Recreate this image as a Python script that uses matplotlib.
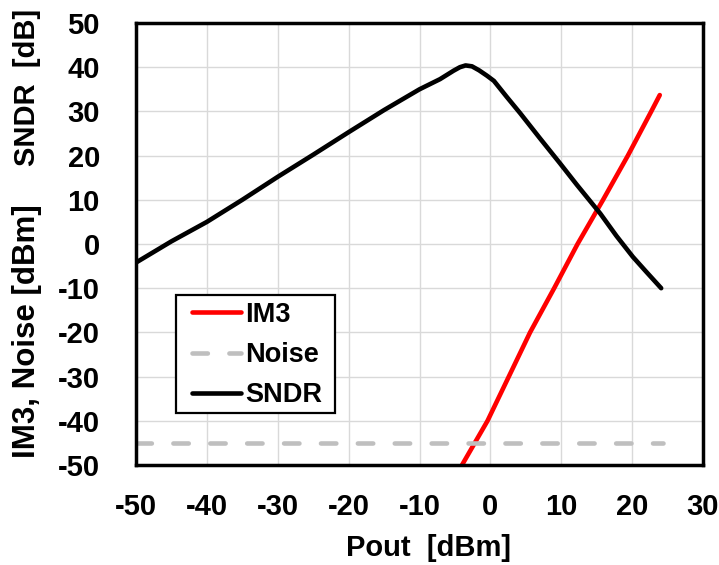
import matplotlib
matplotlib.use("Agg")
import matplotlib.pyplot as plt
from matplotlib.patches import Rectangle

plt.rcParams['font.family'] = ['Liberation Sans', 'DejaVu Sans']
plt.rcParams['font.weight'] = 'bold'
plt.rcParams['axes.unicode_minus'] = False

# Output power sweep [dBm] and measured curves
sndr_x = [-50, -45, -40, -35, -30, -25, -20, -15, -10, -7.1, -5.2, -4.3, -3.5, -2.6,
          -1.6, -0.5, 0.5, 2.3, 4.2, 7.0, 9.8, 12.2, 15.5, 17.8, 20.1, 22.0, 24.1]
sndr_y = [-4.2, 0.6, 5.0, 10.0, 15.2, 20.2, 25.3, 30.3, 35.0, 37.3, 39.2, 40.0, 40.4, 40.2,
          39.3, 38.1, 36.9, 33.3, 29.6, 23.9, 18.3, 13.4, 6.9, 1.8, -2.9, -6.3, -10.0]

im3_x = [-4.6, -4.0, -2.2, -0.4, 2.6, 5.6, 9.0, 12.3, 15.9, 19.4, 22.7, 23.9]
im3_y = [-52.0, -50.0, -45.0, -40.0, -30.0, -20.0, -10.0, 0.0, 10.0, 20.0, 30.0, 33.7]

noise_x = [-50, 24.3]
noise_y = [-45, -45]

x_ticks = [-50, -40, -30, -20, -10, 0, 10, 20, 30]
y_ticks = [-50, -40, -30, -20, -10, 0, 10, 20, 30, 40, 50]

W, H = 719, 565
fig = plt.figure(figsize=(W / 100, H / 100), dpi=100)
ax = fig.add_axes([136 / W, 1 - 465 / H, 567 / W, 442 / H])

lw = 3.3
ax.plot(im3_x, im3_y, color='#ff0000', lw=lw, solid_capstyle='round',
        solid_joinstyle='round', label='IM3', zorder=3)
ax.plot(noise_x, noise_y, color='#bfbfbf', lw=lw, dashes=(3.35, 4.7),
        dash_capstyle='round', label='Noise', zorder=3)
ax.plot(sndr_x, sndr_y, color='black', lw=lw, solid_capstyle='round',
        solid_joinstyle='round', label='SNDR', zorder=3)

ax.set_xlim(-50, 30)
ax.set_ylim(-50, 50)
ax.set_xticks(x_ticks)
ax.set_yticks(y_ticks)
ax.grid(True, color='#d9d9d9', lw=1)
ax.set_axisbelow(True)
for s in ax.spines.values():
    s.set_linewidth(2.5)
    s.set_color('black')
    s.set_zorder(6)

ax.tick_params(axis='both', length=0, labelsize=21)
ax.tick_params(axis='y', pad=26)
ax.tick_params(axis='x', pad=20)
for lbl in ax.get_xticklabels() + ax.get_yticklabels():
    lbl.set_fontweight('bold')

fig.text(428 / W, 1 - 548 / H, 'Pout  [dBm]', ha='center', va='center',
         fontsize=21, fontweight='bold')
fig.text(27 / W, 1 - 87 / H, 'SNDR  [dB]', rotation=90, ha='center', va='center',
         fontsize=21, fontweight='bold')
fig.text(27 / W, 1 - 331 / H, 'IM3, Noise [dBm]', rotation=90, ha='center', va='center',
         fontsize=22.5, fontweight='bold')

# legend box drawn as a framed white rectangle, entries placed inside it
box = Rectangle(((176 - 136) / 567, (465 - 413) / 442), 159 / 567, 118 / 442,
                transform=ax.transAxes, facecolor='white', edgecolor='black',
                lw=1.6, zorder=4.5, clip_on=False)
ax.add_patch(box)
leg = ax.legend(loc='center left', bbox_to_anchor=((192 - 136) / 567, (465 - 355) / 442),
                fontsize=19.5, frameon=False, handlelength=1.8, handletextpad=0.15,
                labelspacing=0.52, borderpad=0, borderaxespad=0)
leg.set_zorder(5)
for t in leg.get_texts():
    t.set_fontweight('bold')

fig.savefig('out.png', dpi=100)
